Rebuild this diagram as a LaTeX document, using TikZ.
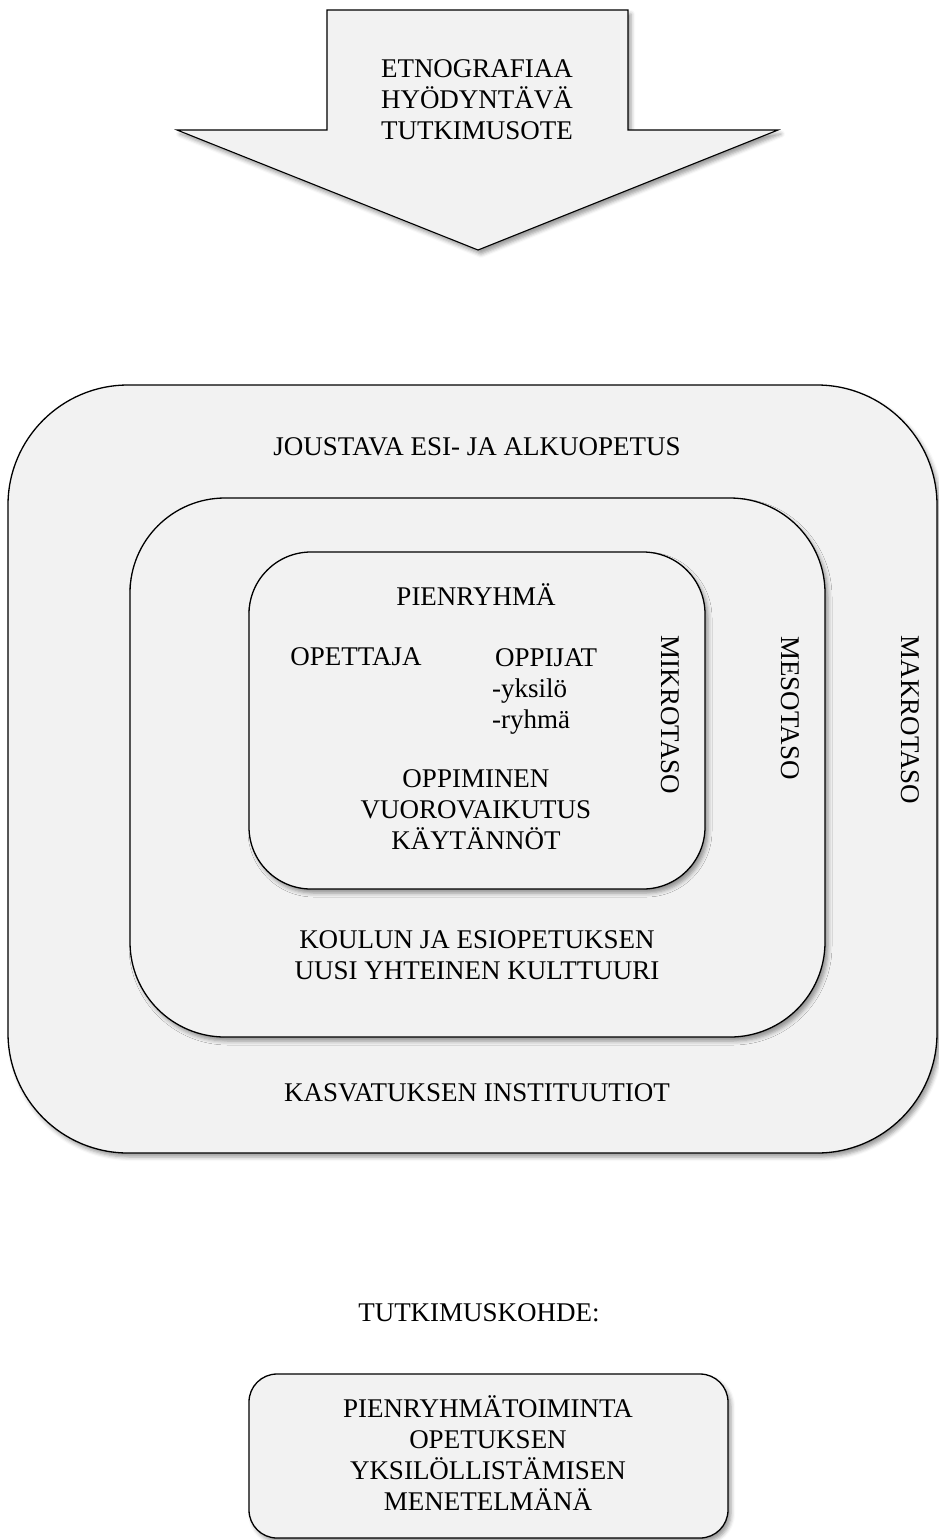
\documentclass[tikz,border=0pt]{standalone}
\usepackage{fontspec}
\setmainfont{Liberation Serif}
\usetikzlibrary{shadows.blur}
\definecolor{boxgray}{HTML}{F2F2F2}
\tikzset{
  levelbox/.style={draw, fill=boxgray, line width=1.3pt,
    blur shadow={shadow xshift=3pt, shadow yshift=-4pt, shadow blur radius=4pt, shadow opacity=40}},
  lvltext/.style={font=\fontsize{27}{31}\selectfont, align=center, inner sep=0pt},
}
\begin{document}
\begin{tikzpicture}[x=1pt,y=-1pt]
\useasboundingbox (0,0) rectangle (939,1540);

% research approach arrow
\draw[levelbox, line width=1.1pt] (327,10) -- (628,10) -- (628,130) -- (778,130)
  -- (478,250) -- (177,130) -- (327,130) -- cycle;
\node[lvltext] (approach) at (477,100) {ETNOGRAFIAA\\HYÖDYNTÄVÄ\\TUTKIMUSOTE};

% nested levels
\node[levelbox, rounded corners=120pt, minimum width=929pt, minimum height=768pt] (makro) at (472.5,769) {};
\node[levelbox, rounded corners=95pt, minimum width=695pt, minimum height=539pt] (meso) at (477.5,767.5) {};
\node[levelbox, rounded corners=62pt, minimum width=456pt, minimum height=337pt] (mikro) at (477,720.5) {};

\node[lvltext] (flex) at (477,447) {JOUSTAVA ESI- JA ALKUOPETUS};
\node[lvltext] (inst) at (477,1093) {KASVATUKSEN INSTITUUTIOT};
\node[lvltext] (culture) at (477,955.5) {KOULUN JA ESIOPETUKSEN\\UUSI YHTEINEN KULTTUURI};

\node[lvltext] (group) at (476,595) {PIENRYHMÄ};
\node[lvltext] (teacher) at (356,657) {OPETTAJA};
\node[lvltext, align=left, anchor=west] (learners) at (492,691) {\hspace{3pt}OPPIJAT\\-yksilö\\-ryhmä};
\node[lvltext] (learning) at (476,810) {OPPIMINEN\\VUOROVAIKUTUS\\KÄYTÄNNÖT};

\node[lvltext, rotate=-90] (mikrolbl) at (670,715) {MIKROTASO};
\node[lvltext, rotate=-90] (mesolbl) at (790,708) {MESOTASO};
\node[lvltext, rotate=-90] (makrolbl) at (910,720) {MAKROTASO};

% research object
\node[lvltext] (objtitle) at (479,1313) {TUTKIMUSKOHDE:};
\node[levelbox, rounded corners=28pt, minimum width=479pt, minimum height=164pt] (object) at (488.5,1456) {};
\node[lvltext] (objtext) at (488,1453.5) {PIENRYHMÄTOIMINTA\\OPETUKSEN\\YKSILÖLLISTÄMISEN\\MENETELMÄNÄ};
\end{tikzpicture}
\end{document}
